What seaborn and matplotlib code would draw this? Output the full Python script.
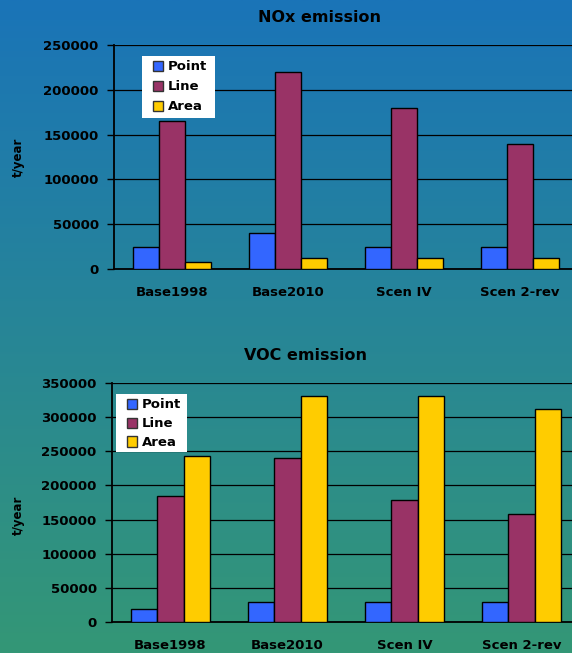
import matplotlib
matplotlib.use("Agg")
import matplotlib.pyplot as plt
import numpy as np
import pandas as pd
import seaborn as sns
from matplotlib.patches import Patch, Rectangle

categories = ["Base1998", "Base2010", "Scen IV", "Scen 2-rev"]
sources = ["Point", "Line", "Area"]

nox_point = [24000, 40000, 25000, 25000]
nox_line = [165000, 220000, 180000, 140000]
nox_area = [7500, 12000, 12000, 12000]

voc_point = [19000, 30000, 30000, 30000]
voc_line = [185000, 240000, 178000, 158000]
voc_area = [243000, 330000, 330000, 312000]

colors = ["#3366FF", "#993366", "#FFCC00"]
palette = dict(zip(sources, colors))


def long_table(point, line, area):
    rows = []
    for src, vals in zip(sources, [point, line, area]):
        for cat, v in zip(categories, vals):
            rows.append({"category": cat, "source": src, "value": v})
    return pd.DataFrame(rows)


sns.set_style("white")
plt.rcParams["font.family"] = ["DejaVu Sans"]
plt.rcParams["font.weight"] = "bold"
plt.rcParams["text.color"] = "black"
plt.rcParams["xtick.color"] = "black"
plt.rcParams["ytick.color"] = "black"

fig = plt.figure(figsize=(5.72, 6.53), dpi=100)

# gradient background
bg = fig.add_axes([0, 0, 1, 1], zorder=-10)
top = np.array([26, 116, 184]) / 255
bottom = np.array([52, 151, 118]) / 255
t = np.linspace(0, 1, 256)[:, None]
grad = top * (1 - t) + bottom * t
bg.imshow(grad[:, None, :], aspect="auto", extent=[0, 1, 0, 1])
bg.axis("off")


def draw_panel(rect, df, ymax, step, title, title_xy, legend_box, spacing):
    ax = fig.add_axes(rect)
    ax.set_facecolor("none")
    sns.barplot(
        data=df, x="category", y="value", hue="source", order=categories,
        hue_order=sources, palette=palette, saturation=1, width=0.67, gap=0,
        edgecolor="black", linewidth=1, legend=False, ax=ax, zorder=3,
    )
    ax.set_xlim(-0.5, 3.5)
    ax.set_ylim(0, ymax)
    ticks = np.arange(0, ymax + 1, step)
    ax.set_yticks(ticks)
    ax.set_yticklabels([f"{int(v)}" for v in ticks], fontsize=9.5, fontweight="bold")
    ax.set_xticks(range(len(categories)))
    ax.set_xticklabels(categories, fontsize=9.5, fontweight="bold")
    ax.tick_params(axis="x", which="major", length=0, pad=12)
    ax.set_xticks([0.5, 1.5, 2.5], minor=True)
    ax.tick_params(axis="x", which="minor", length=4, width=1, color="black", direction="out")
    ax.tick_params(axis="y", length=5, width=1, color="black", direction="out", pad=6, left=True)
    ax.yaxis.grid(True, color="black", linewidth=0.9, zorder=0)
    ax.set_axisbelow(True)
    for side in ["top", "right"]:
        ax.spines[side].set_visible(False)
    for side in ["left", "bottom"]:
        ax.spines[side].set_color("black")
        ax.spines[side].set_linewidth(1.3)
    ax.set_xlabel("")
    ax.set_ylabel("")
    fig.text(title_xy[0], title_xy[1], title, ha="center", va="center",
             fontsize=11.5, fontweight="bold")

    # white legend box
    x0, y0, x1, y1 = legend_box
    ax.add_patch(Rectangle((x0 / 572, 1 - y1 / 653), (x1 - x0) / 572, (y1 - y0) / 653,
                           transform=fig.transFigure, facecolor="white",
                           edgecolor="none", zorder=5, clip_on=False))
    handles = [Patch(facecolor=c, edgecolor="#333333", linewidth=1) for c in colors]
    leg = ax.legend(handles, sources, loc="upper left",
                    bbox_to_anchor=((x0 + 10.5) / 572, 1 - (y0 + 4.5) / 653),
                    bbox_transform=fig.transFigure, frameon=False,
                    borderpad=0, handlelength=0.8, handleheight=0.8,
                    handletextpad=0.35, labelspacing=spacing, borderaxespad=0,
                    prop={"size": 9.5, "weight": "bold"})
    leg.set_zorder(6)
    return ax


draw_panel([114 / 572, 1 - 269 / 653, 464 / 572, 224 / 653],
           long_table(nox_point, nox_line, nox_area), 250000, 50000,
           "NOx emission", (319 / 572, 1 - 17 / 653), (142, 56, 215, 118), 0.52)
draw_panel([112 / 572, 1 - 622.3 / 653, 468 / 572, 239.6 / 653],
           long_table(voc_point, voc_line, voc_area), 350000, 50000,
           "VOC emission", (305 / 572, 1 - 355 / 653), (116, 394, 187, 452), 0.44)

fig.text(18 / 572, 1 - 157 / 653, "t/year", rotation=90, ha="center", va="center",
         fontsize=8.5, fontweight="bold")
fig.text(18 / 572, 1 - 515 / 653, "t/year", rotation=90, ha="center", va="center",
         fontsize=8.5, fontweight="bold")

fig.savefig("out.png", dpi=100)
